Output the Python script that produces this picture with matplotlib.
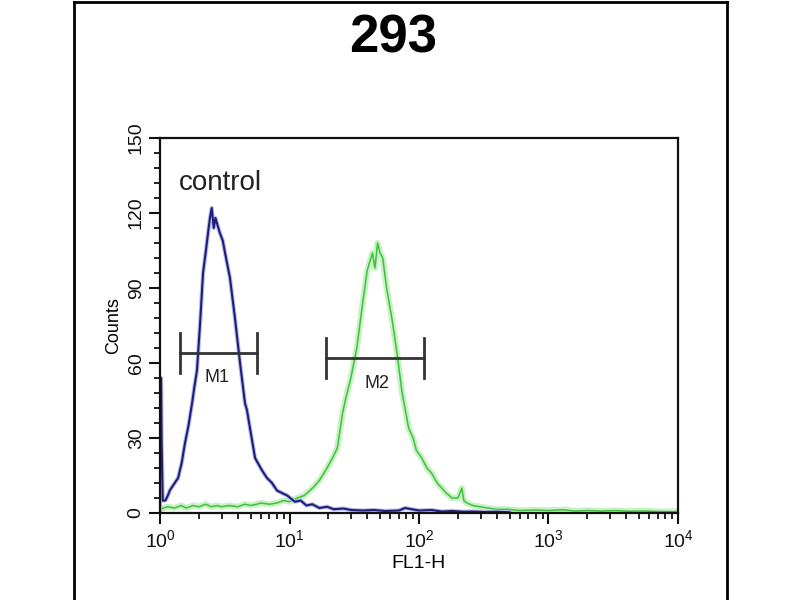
import numpy as np
import matplotlib
matplotlib.use('Agg')
import matplotlib.pyplot as plt
from matplotlib.lines import Line2D
from matplotlib.ticker import AutoMinorLocator, LogLocator, LogFormatterMathtext, NullFormatter

plt.rcParams['font.family'] = ['Liberation Sans', 'DejaVu Sans']
plt.rcParams['mathtext.default'] = 'regular'

TITLE = '293'

# control histogram (FL1-H value, counts)
ctrl_x = [1.00, 1.00, 1.02, 1.03, 1.05, 1.10, 1.15, 1.19, 1.26, 1.38, 1.47, 1.56, 1.66,
          1.77, 1.85, 1.93, 2.04, 2.15, 2.25, 2.35, 2.43, 2.51, 2.60, 2.68, 2.75, 2.90,
          3.05, 3.18, 3.47, 3.79, 4.15, 4.53, 4.70, 4.95, 5.42, 6.14, 6.70, 7.33, 8.00,
          8.75, 9.60, 11.0, 12.2, 13.5, 15.0, 17.0, 19.5, 22.0, 26.0, 30.0, 37.0, 45.0,
          55.0, 70.0, 78.0, 100, 125, 150, 180, 220, 260, 320, 400, 500]
ctrl_y = [0, 54, 54, 28, 5, 5, 7, 9, 11, 14, 20, 28, 35,
          44, 51, 57, 76, 96, 104, 112, 118, 122, 114, 118, 116, 112,
          109, 104, 94, 78, 60, 44, 41, 34, 22, 17, 14, 12, 9,
          8, 7, 4.5, 5, 3, 3.5, 2, 2.5, 1.5, 1.8, 1.2, 1.0, 1.2,
          0.8, 1.0, 2.0, 1.0, 1.2, 0.6, 0.8, 0.5, 0.6, 0.4, 0.5, 0.3]

# sample histogram
samp_x = [1.00, 1.15, 1.30, 1.45, 1.60, 1.80, 2.00, 2.25, 2.50, 2.75, 3.00, 3.40, 4.00,
          4.50, 5.00, 5.60, 6.00, 7.00, 8.00, 9.00, 10.0, 11.5, 13.0, 15.1, 17.0, 19.5,
          21.5, 23.4, 25.7, 27.5, 29.5, 33.1, 36.3, 39.8, 43.7, 45.7, 47.9, 50.0, 52.5,
          56.2, 61.7, 67.6, 74.1, 83.2, 90.0, 95.5, 105, 115, 125, 138, 150, 162, 180,
          200, 214, 222, 234, 260, 295, 340, 400, 480, 600, 800, 1000, 1300, 1600, 2000,
          2600, 3300, 4200, 5500, 7000, 10000]
samp_y = [1.5, 2.5, 2.0, 3.0, 2.0, 3.0, 2.5, 3.5, 2.5, 3.0, 2.5, 3.0, 2.5,
          3.5, 3.0, 3.5, 4.0, 3.5, 4.0, 5.0, 4.5, 6.0, 7.0, 10.0, 13.0, 18.0,
          22.0, 26.0, 40.0, 47.0, 53.0, 66.0, 82.0, 97.0, 104.0, 98.0, 108.0, 104.0, 102.0,
          90.0, 78.0, 64.0, 48.0, 34.0, 30.0, 25.0, 22.0, 18.0, 16.0, 12.0, 10.0, 8.0, 6.0,
          6.0, 10.0, 5.0, 4.0, 3.0, 2.5, 2.0, 1.5, 1.5, 1.0, 1.2, 1.0, 1.3, 0.8, 1.0,
          0.8, 1.0, 0.7, 0.8, 0.6, 0.5]

# marker gates
gate_names = ['M1', 'M2']
gate_lo = [1.43, 19.1]
gate_hi = [5.6, 110.0]
gate_y = [64, 62]
gate_label_x = [2.75, 47.0]
gate_label_y = [54, 52]

fig = plt.figure(figsize=(8, 6), dpi=100)
ax = fig.add_axes([0.2, 0.145, 0.6475, 0.625])

ax.plot(samp_x, samp_y, color='#c9f2c4', lw=4.5, solid_joinstyle='round')
ax.plot(samp_x, samp_y, color='#3fbf3f', lw=1.1)
ax.plot(ctrl_x, ctrl_y, color='#b9bce6', lw=3.0, solid_joinstyle='round')
ax.plot(ctrl_x, ctrl_y, color='#1e1e7a', lw=1.5)

for name, lo, hi, y, lx, ly in zip(gate_names, gate_lo, gate_hi, gate_y, gate_label_x, gate_label_y):
    ax.plot([lo, hi], [y, y], color='#333333', lw=2)
    ax.plot([lo, lo], [y - 8, y + 8], color='#333333', lw=2)
    ax.plot([hi, hi], [y - 8, y + 8], color='#333333', lw=2)
    ax.text(lx, ly, name, fontsize=13, ha='center', va='center', color='#222222')

ax.text(1.40, 132, 'control', fontsize=20, ha='left', va='center', color='#222222')

ax.set_xscale('log')
ax.set_xlim(1, 1e4)
ax.set_ylim(0, 150)
ax.xaxis.set_major_locator(LogLocator(base=10, numticks=10))
ax.xaxis.set_major_formatter(LogFormatterMathtext())
ax.xaxis.set_minor_locator(LogLocator(base=10, subs=np.arange(2, 10), numticks=20))
ax.xaxis.set_minor_formatter(NullFormatter())
ax.set_yticks([0, 30, 60, 90, 120, 150])
ax.yaxis.set_minor_locator(AutoMinorLocator(5))
for lab in ax.get_yticklabels():
    lab.set_rotation(90)
    lab.set_va('center')

ax.tick_params(which='major', direction='out', length=8, width=1.5, labelsize=14, colors='#111111')
ax.tick_params(which='minor', direction='out', length=4, width=1.2)
ax.tick_params(axis='y', pad=3)
for s in ax.spines.values():
    s.set_linewidth(1.6)
    s.set_color('#111111')

ax.set_xlabel('FL1-H', fontsize=14, labelpad=3)
ax.set_ylabel('Counts', fontsize=13, labelpad=4)

fig.text(0.491, 0.913, TITLE, fontsize=38, fontweight='bold', ha='center', va='baseline')

# outer panel border
fig.add_artist(Line2D([0.0925, 0.0925], [0.0, 0.997], color='black', lw=2))
fig.add_artist(Line2D([0.909, 0.909], [0.0, 0.997], color='black', lw=2))
fig.add_artist(Line2D([0.0925, 0.909], [0.997, 0.997], color='black', lw=2))

fig.savefig('out.png', dpi=100)
